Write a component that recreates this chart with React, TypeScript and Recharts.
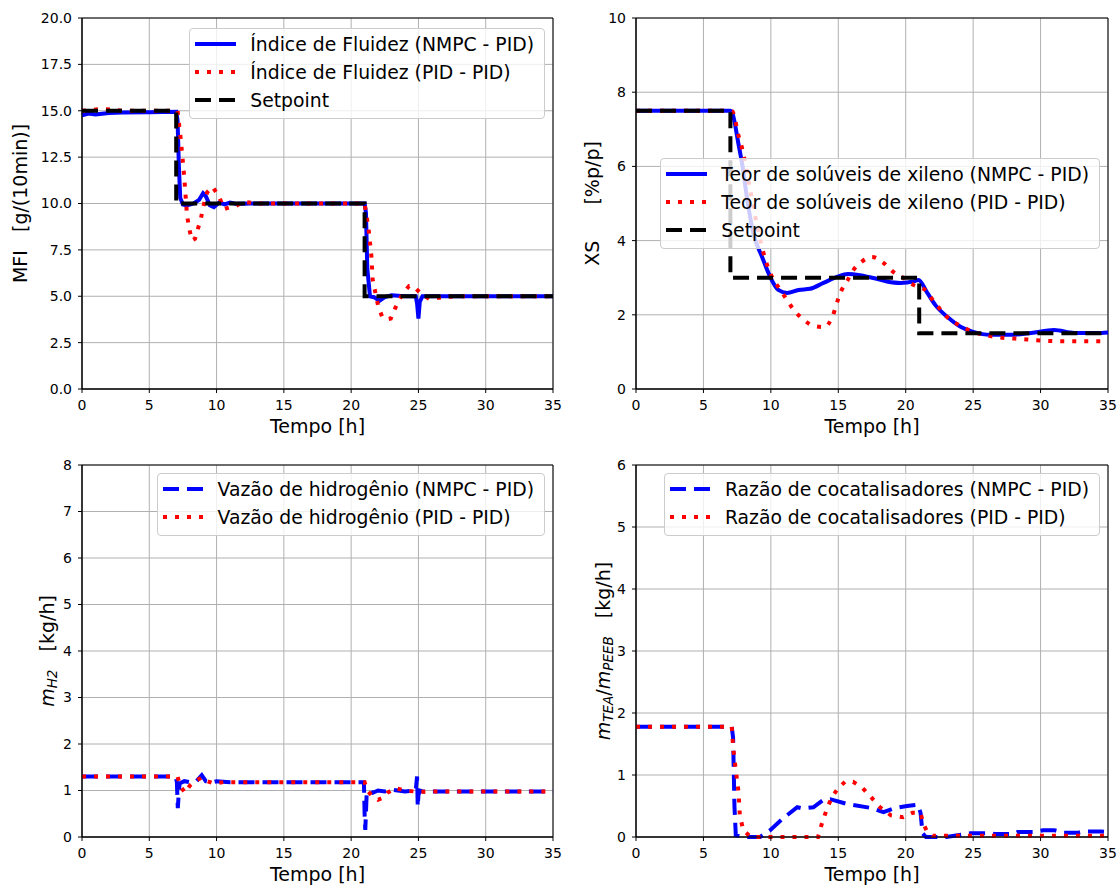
import React from 'react';
import { LineChart, Line, XAxis, YAxis, CartesianGrid, Legend, ReferenceArea } from 'recharts';

const FONT = '"DejaVu Sans", Verdana, sans-serif';
const BLUE = '#0000ff';
const RED = '#ff0000';
const BLACK = '#000000';

const timeTicks = [0, 5, 10, 15, 20, 25, 30, 35];
const mfiTicks = [0, 2.5, 5, 7.5, 10, 12.5, 15, 17.5, 20];
const xsTicks = [0, 2, 4, 6, 8, 10];
const h2Ticks = [0, 1, 2, 3, 4, 5, 6, 7, 8];
const ratioTicks = [0, 1, 2, 3, 4, 5, 6];

// Índice de fluidez (MFI)
const mfiNmpcT = [0, 0.5, 1, 2, 3, 5, 7.0, 7.1, 7.2, 7.3, 7.5, 7.8, 8.3, 8.7, 9.0, 9.2, 9.5, 9.8, 10.2, 10.6, 11.0, 11.5, 12.5, 15, 18, 21.0, 21.1, 21.2, 21.4, 21.7, 22.1, 22.5, 23, 24, 24.8, 24.9, 25.0, 25.1, 25.3, 26, 30, 35];
const mfiNmpcV = [14.75, 14.85, 14.8, 14.88, 14.9, 14.92, 14.95, 14.5, 12, 10.3, 9.95, 9.9, 10.0, 10.2, 10.55, 10.4, 9.9, 9.8, 10.05, 9.95, 10.05, 9.98, 10.0, 10.0, 10.0, 10.0, 9.5, 6.5, 5.0, 4.95, 4.75, 4.95, 5.05, 5.0, 5.0, 4.6, 3.8, 4.7, 5.0, 5.0, 5.0, 5.0];
const mfiPidT = [0, 1.5, 3, 7.1, 7.35, 7.6, 7.8, 7.95, 8.17, 8.4, 8.6, 8.84, 9.0, 9.3, 9.7, 10.2, 10.55, 11.0, 11.3, 12.0, 13, 21.0, 21.3, 21.5, 21.6, 21.8, 22.0, 22.3, 22.6, 22.95, 23.3, 23.8, 24.3, 24.7, 25.1, 25.8, 26.8, 28, 35];
const mfiPidV = [15, 15.1, 15, 15, 13.4, 11.4, 9.4, 8.7, 8.0, 8.1, 8.6, 9.2, 9.8, 10.6, 10.9, 10.35, 9.7, 9.8, 9.8, 10.1, 10.0, 10.0, 8.6, 7.2, 5.9, 5.2, 4.5, 3.9, 3.75, 3.8, 4.4, 5.1, 5.55, 5.5, 5.2, 4.85, 4.95, 5.0, 5.0];
const mfiSpT = [0, 7, 7, 21, 21, 35];
const mfiSpV = [15, 15, 10, 10, 5, 5];

// Teor de solúveis de xileno (XS)
const xsNmpcT = [0, 3, 7.0, 7.13, 7.6, 7.9, 8.25, 8.7, 9.35, 9.95, 10.55, 11.2, 12.05, 12.9, 13.9, 14.9, 15.7, 16.6, 17.6, 18.6, 19.6, 20.6, 20.95, 21.6, 22.2, 23.1, 24.1, 25.0, 26.3, 27.8, 29.3, 31.0, 32.5, 34.5, 35];
const xsNmpcV = [7.5, 7.5, 7.5, 7.45, 6.6, 6.0, 5.1, 4.2, 3.56, 3.02, 2.67, 2.59, 2.67, 2.7, 2.86, 3.02, 3.1, 3.07, 2.99, 2.9, 2.86, 2.9, 2.94, 2.59, 2.26, 1.94, 1.67, 1.54, 1.46, 1.46, 1.51, 1.59, 1.51, 1.51, 1.52];
const xsPidT = [0, 7.1, 7.3, 7.5, 7.9, 8.5, 8.85, 9.45, 9.95, 10.7, 11.2, 11.7, 12.3, 13.2, 14.0, 14.55, 15.15, 15.7, 16.1, 16.7, 17.5, 18.35, 19.1, 19.85, 20.6, 21.45, 22.0, 22.6, 23.2, 24.1, 25.0, 25.8, 26.7, 27.6, 28.5, 29.5, 31.3, 33.2, 35];
const xsPidV = [7.5, 7.5, 7.35, 6.98, 6.44, 5.3, 4.64, 3.67, 3.13, 2.67, 2.4, 2.13, 1.91, 1.7, 1.67, 1.94, 2.59, 2.94, 3.2, 3.42, 3.56, 3.4, 3.15, 2.99, 2.8, 2.67, 2.4, 2.13, 1.89, 1.7, 1.54, 1.46, 1.4, 1.37, 1.35, 1.32, 1.29, 1.29, 1.29];
const xsSpT = [0, 7, 7, 21, 21, 35];
const xsSpV = [7.5, 7.5, 3, 3, 1.5, 1.5];

// Vazão de hidrogênio
const h2NmpcT = [0, 6.95, 7.05, 7.12, 7.18, 7.25, 7.6, 8.0, 8.5, 8.9, 9.2, 9.6, 10, 11, 15, 20.95, 21.0, 21.05, 21.15, 21.3, 21.6, 22.0, 22.5, 23, 24, 24.8, 24.9, 24.95, 25.0, 25.1, 25.3, 26, 30, 35];
const h2NmpcV = [1.3, 1.3, 1.18, 0.62, 0.9, 1.15, 1.2, 1.18, 1.2, 1.33, 1.2, 1.17, 1.2, 1.18, 1.18, 1.18, 0.5, 0.15, 0.9, 1.0, 0.95, 1.0, 0.98, 1.02, 0.98, 1.0, 1.3, 0.65, 0.9, 1.0, 0.98, 0.98, 0.98, 0.98];
const h2PidT = [0, 7.1, 7.3, 7.65, 8.0, 8.4, 8.9, 9.3, 9.8, 10.5, 12, 21.0, 21.2, 21.5, 22.0, 22.4, 22.7, 23.3, 24, 25, 26, 35];
const h2PidV = [1.3, 1.3, 1.1, 0.95, 1.1, 1.2, 1.28, 1.2, 1.15, 1.18, 1.18, 1.18, 1.0, 0.9, 0.8, 0.85, 0.95, 1.05, 1.0, 0.97, 0.98, 0.98];

// Razão de cocatalisadores
const ratioNmpcT = [0, 7.1, 7.2, 7.3, 7.4, 8, 9.2, 9.95, 10.9, 11.96, 12.4, 13.15, 13.9, 14.4, 15.7, 17.4, 18.35, 19.25, 20.1, 20.9, 21.1, 21.25, 21.5, 23, 24.8, 26, 26.6, 28, 28.3, 29.5, 30.2, 31, 31.7, 32.8, 33.2, 34.5, 35];
const ratioNmpcV = [1.78, 1.78, 1.6, 0.5, 0.03, 0.0, 0.0, 0.11, 0.3, 0.48, 0.46, 0.48, 0.6, 0.61, 0.53, 0.47, 0.4, 0.47, 0.5, 0.52, 0.39, 0.06, 0.0, 0.0, 0.06, 0.06, 0.05, 0.05, 0.08, 0.08, 0.11, 0.11, 0.07, 0.07, 0.09, 0.09, 0.08];
const ratioPidT = [0, 7.1, 7.2, 7.4, 7.6, 7.7, 7.95, 8.5, 13.5, 13.8, 14.2, 14.55, 15.0, 15.5, 16.1, 16.8, 17.4, 18.1, 18.9, 19.8, 20.5, 21.1, 21.3, 21.6, 22.0, 35];
const ratioPidV = [1.78, 1.78, 1.45, 1.08, 0.73, 0.35, 0.11, 0.0, 0.0, 0.23, 0.48, 0.65, 0.79, 0.89, 0.89, 0.79, 0.65, 0.48, 0.35, 0.32, 0.39, 0.39, 0.22, 0.08, 0.02, 0.02];

const toPoints = (t: number[], v: number[]) => t.map((x, i) => ({ t: x, v: v[i] }));

type Series = { name: string; t: number[]; v: number[]; color: string; dash?: string; curve?: 'linear' | 'monotone' };
type LabelPart = { text: string; italic?: boolean; sub?: boolean };

const SOLID = undefined;
const DOTTED = '4 8';
const DASHED = '16 8';

// largura extra à direita para o último rótulo do eixo x não ser cortado
const EXTRA = 14;
const W = 560 + EXTRA;
const H = 445;
const PLOT_LEFT = 82;
const LABEL_FS = 19;

// rótulo do eixo x
const XLabel = ({ cx, cy }: any) => (
  <text x={cx} y={cy} textAnchor="middle" dominantBaseline="central" fontSize={LABEL_FS} fill="#000" fontFamily={FONT}>
    Tempo [h]
  </text>
);

// rótulo do eixo y, com partes em itálico/subscrito
const YLabel = ({ cx, cy, parts }: any) => {
  let shifted = false;
  return (
    <text x={cx} y={cy} textAnchor="middle" dominantBaseline="central" fontSize={LABEL_FS} fill="#000" fontFamily={FONT}
      transform={`rotate(-90 ${cx} ${cy})`} style={{ whiteSpace: 'pre' }}>
      {(parts as LabelPart[]).map((p, i) => {
        let dy = 0;
        if (p.sub && !shifted) { dy = 5; shifted = true; }
        else if (!p.sub && shifted) { dy = -5; shifted = false; }
        return (
          <tspan key={i} dy={dy} fontStyle={p.italic ? 'italic' : 'normal'} fontSize={p.sub ? 13.5 : LABEL_FS}>{p.text}</tspan>
        );
      })}
    </text>
  );
};

const LegendBox = ({ items }: { items: Series[] }) => (
  <div style={{
    background: 'rgba(255,255,255,0.8)', border: '1px solid #cccccc', borderRadius: 4,
    padding: '1px 10px 4px 5px', fontFamily: FONT, fontSize: 18.8, color: '#000', whiteSpace: 'nowrap',
  }}>
    {items.map((s) => (
      <div key={s.name} style={{ display: 'flex', alignItems: 'center', height: 28 }}>
        <svg width={41} height={8} style={{ flex: 'none' }}>
          <line x1={0} x2={41} y1={4} y2={4} stroke={s.color} strokeWidth={4} strokeDasharray={s.dash} />
        </svg>
        <span style={{ marginLeft: 14 }}>{s.name}</span>
      </div>
    ))}
  </div>
);

interface PanelProps {
  left: number;
  top: number;
  mTop: number;
  mRight: number;
  xHeight: number;
  yMax: number;
  yTicks: number[];
  yFmt?: (v: number) => string;
  yLabel: LabelPart[];
  yLabelX: number;
  series: Series[];
  legendTop: number;
}

function Panel({ left, top, mTop, mRight, xHeight, yMax, yTicks, yFmt, yLabel, yLabelX, series, legendTop }: PanelProps) {
  const right = mRight + EXTRA;
  const plotRight = W - right;
  const plotBottom = H - xHeight;
  return (
    <div style={{ position: 'absolute', left, top, width: W, height: H }}>
      <LineChart width={W} height={H} margin={{ top: mTop, right, left: 0, bottom: 0 }}>
        <CartesianGrid stroke="#b0b0b0" strokeWidth={1} />
        <XAxis type="number" dataKey="t" domain={[0, 35]} ticks={timeTicks} interval={0} height={xHeight}
          stroke="#000" tick={{ fill: '#000', fontSize: 14 }} tickSize={4} tickMargin={7}
          label={<XLabel cx={(PLOT_LEFT + plotRight) / 2} cy={plotBottom + 37} />} />
        <YAxis type="number" domain={[0, yMax]} ticks={yTicks} interval={0} width={PLOT_LEFT}
          stroke="#000" tick={{ fill: '#000', fontSize: 14 }} tickSize={4} tickMargin={6}
          tickFormatter={yFmt}
          label={<YLabel cx={yLabelX} cy={(mTop + plotBottom) / 2} parts={yLabel} />} />
        {series.map((s) => (
          <Line key={s.name} data={toPoints(s.t, s.v)} dataKey="v" name={s.name} type={s.curve || 'linear'}
            stroke={s.color} strokeWidth={4} strokeDasharray={s.dash} dot={false} activeDot={false}
            isAnimationActive={false} />
        ))}
        <ReferenceArea x1={0} x2={35} y1={0} y2={yMax} fill="none" stroke="#000" strokeWidth={1} ifOverflow="visible" />
        <Legend layout="horizontal" verticalAlign="middle" align="center"
          wrapperStyle={{ top: legendTop, right: right + 8, left: 'auto', width: 'auto', height: 'auto' }}
          content={() => <LegendBox items={series} />} />
      </LineChart>
    </div>
  );
}

const mfiSeries: Series[] = [
  { name: 'Índice de Fluidez (NMPC - PID)', t: mfiNmpcT, v: mfiNmpcV, color: BLUE, dash: SOLID },
  { name: 'Índice de Fluidez (PID - PID)', t: mfiPidT, v: mfiPidV, color: RED, dash: DOTTED },
  { name: 'Setpoint', t: mfiSpT, v: mfiSpV, color: BLACK, dash: DASHED },
];

const xsSeries: Series[] = [
  { name: 'Teor de solúveis de xileno (NMPC - PID)', t: xsNmpcT, v: xsNmpcV, color: BLUE, dash: SOLID, curve: 'monotone' },
  { name: 'Teor de solúveis de xileno (PID - PID)', t: xsPidT, v: xsPidV, color: RED, dash: DOTTED, curve: 'monotone' },
  { name: 'Setpoint', t: xsSpT, v: xsSpV, color: BLACK, dash: DASHED },
];

const h2Series: Series[] = [
  { name: 'Vazão de hidrogênio (NMPC - PID)', t: h2NmpcT, v: h2NmpcV, color: BLUE, dash: DASHED },
  { name: 'Vazão de hidrogênio (PID - PID)', t: h2PidT, v: h2PidV, color: RED, dash: DOTTED },
];

const ratioSeries: Series[] = [
  { name: 'Razão de cocatalisadores (NMPC - PID)', t: ratioNmpcT, v: ratioNmpcV, color: BLUE, dash: DASHED },
  { name: 'Razão de cocatalisadores (PID - PID)', t: ratioPidT, v: ratioPidV, color: RED, dash: DOTTED },
];

export default function App() {
  return (
    <div style={{ position: 'absolute', left: 0, top: 0, width: 1120, height: 890, overflow: 'hidden', background: '#fff', fontFamily: FONT }}>
      <Panel left={0} top={0} mTop={18} mRight={7} xHeight={56} yMax={20} yTicks={mfiTicks}
        yFmt={(v) => v.toFixed(1)} yLabel={[{ text: 'MFI   [g/(10min)]' }]} yLabelX={20}
        series={mfiSeries} legendTop={28} />
      <Panel left={554} top={0} mTop={18} mRight={6} xHeight={56} yMax={10} yTicks={xsTicks}
        yLabel={[{ text: 'XS      [%p/p]' }]} yLabelX={38}
        series={xsSeries} legendTop={158} />
      <Panel left={0} top={445} mTop={20} mRight={7} xHeight={53} yMax={8} yTicks={h2Ticks}
        yLabel={[{ text: 'm', italic: true }, { text: 'H2', italic: true, sub: true }, { text: '   [kg/h]' }]} yLabelX={47}
        series={h2Series} legendTop={28} />
      <Panel left={554} top={445} mTop={20} mRight={6} xHeight={53} yMax={6} yTicks={ratioTicks}
        yLabel={[
          { text: 'm', italic: true }, { text: 'TEA', italic: true, sub: true }, { text: '/' },
          { text: 'm', italic: true }, { text: 'PEEB', italic: true, sub: true }, { text: '   [kg/h]' },
        ]} yLabelX={49}
        series={ratioSeries} legendTop={28} />
    </div>
  );
}
